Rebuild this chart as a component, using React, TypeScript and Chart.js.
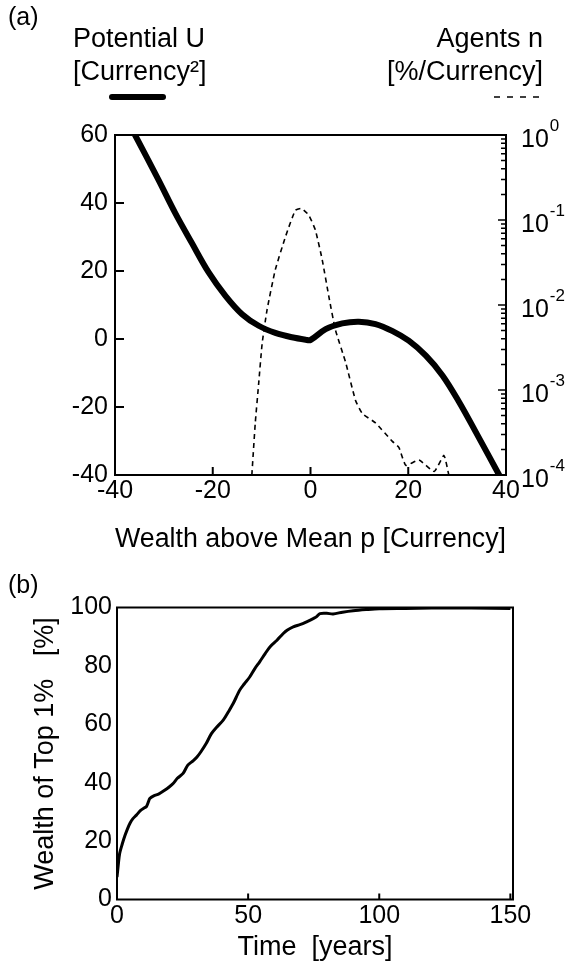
import React, { useEffect, useRef } from 'react';
import { Chart, registerables } from 'chart.js';

Chart.register(...registerables);

const FAMILY = '"Liberation Sans", Arial, Helvetica, sans-serif';

// ---- Panel (a) data ----
const potentialX = [-35.9, -31.1, -27.7, -24.3, -20.8, -17.4, -14, -10.6, -7.2, -3.8, -1, 0, 3.1, 6.5, 9.9, 13.3, 16.7, 20.1, 23.6, 27, 30.4, 33.8, 38.6];
const potentialU = [60, 46.8, 37.1, 28.3, 19.5, 12.7, 7.3, 3.9, 1.8, 0.5, -0.2, -0.3, 2.9, 4.6, 5.1, 4.4, 2.4, -0.5, -4.9, -10.7, -18.5, -27.3, -40];

const agentsX = [-12, -11.3, -10.6, -9.9, -8.9, -7.2, -5.1, -3.1, -1.85, -0.35, 1, 2.4, 3.75, 5.1, 7.2, 9.2, 10.6, 13.3, 16.7, 18.1, 19.5, 22.2, 25.3, 27.3, 28.3];
const agentsN = [1e-4, 4.1e-4, 1.2e-3, 3.5e-3, 8.7e-3, 2.6e-2, 6.4e-2, 0.13, 0.137, 0.114, 0.076, 0.034, 0.0126, 5.1e-3, 2.1e-3, 7.6e-4, 5.3e-4, 4.1e-4, 2.5e-4, 2.1e-4, 1.3e-4, 1.5e-4, 1.1e-4, 1.7e-4, 1e-4];

const xTicksA = [-40, -20, 0, 20, 40];
const yTicksA = [-40, -20, 0, 20, 40, 60];
const logExponents = [0, -1, -2, -3, -4];

// ---- Panel (b) data ----
const timeYears = [0, 0.5, 1, 2, 3, 4, 5, 6, 7.4, 9, 10.5, 11.2, 12, 12.5, 14, 16, 18, 20, 21.4, 23, 25.2, 27, 29, 30.5, 32, 34, 36, 38, 40.5, 42.5, 44.3, 46.8, 48.5, 50.6, 52.5, 54.4, 56.5, 58.3, 61, 63.4, 65, 67.2, 70, 72.5, 74.8, 76, 77.4, 80, 82.4, 86, 90, 95, 100, 110, 120, 135, 150];
const top1Share = [7.7, 12, 15.7, 19, 21.8, 24.2, 26.2, 27.6, 28.9, 30.5, 31.4, 31.8, 33.5, 34.6, 35.5, 36.2, 37.3, 38.6, 39.7, 41.5, 43.2, 46, 47.5, 48.8, 50.6, 53.4, 56.8, 59, 61.4, 64.3, 67.1, 71.7, 73.8, 76.2, 79, 81.4, 84.2, 86.5, 88.8, 91.1, 92.3, 93.4, 94.2, 95.2, 96.2, 96.8, 97.9, 98.0, 97.8, 98.4, 98.9, 99.3, 99.6, 99.7, 99.8, 99.8, 99.7];

const xTicksB = [0, 50, 100, 150];
const yTicksB = [0, 20, 40, 60, 80, 100];

const tickFont = { family: FAMILY, size: 25, lineHeight: 1.2 };
const titleFont = { family: FAMILY, size: 27, lineHeight: 1.2 };

function makeConfigA(): any {
  const decor = {
    id: 'decorA',
    afterDraw(chart: any) {
      const { ctx, chartArea: ca, scales } = chart;
      const sx = scales.x, sy = scales.y, sy2 = scales.y2;
      ctx.save();
      ctx.strokeStyle = '#000';
      ctx.lineWidth = 2;
      ctx.strokeRect(ca.left, ca.top, ca.right - ca.left, ca.bottom - ca.top);
      ctx.beginPath();
      for (const v of xTicksA) {
        const px = sx.getPixelForValue(v);
        if (px > ca.left + 2 && px < ca.right - 2) { ctx.moveTo(px, ca.bottom); ctx.lineTo(px, ca.bottom - 8); }
      }
      for (const v of yTicksA) {
        const py = sy.getPixelForValue(v);
        if (py > ca.top + 2 && py < ca.bottom - 2) { ctx.moveTo(ca.left, py); ctx.lineTo(ca.left + 9, py); }
      }
      ctx.stroke();
      ctx.lineWidth = 1.5;
      ctx.beginPath();
      for (const e of logExponents) {
        const base = Math.pow(10, e);
        const py = sy2.getPixelForValue(base);
        ctx.moveTo(ca.right, py); ctx.lineTo(ca.right - 8, py);
        if (e < 0) {
          for (let m = 2; m <= 9; m++) {
            const pm = sy2.getPixelForValue(m * base);
            ctx.moveTo(ca.right, pm); ctx.lineTo(ca.right - 5, pm);
          }
        }
      }
      ctx.stroke();
      // right axis labels 10^n
      ctx.fillStyle = '#000';
      ctx.textAlign = 'left';
      ctx.textBaseline = 'middle';
      for (const e of logExponents) {
        const py = sy2.getPixelForValue(Math.pow(10, e));
        ctx.font = `25px ${FAMILY}`;
        ctx.fillText('10', ca.right + 15, py + 5);
        const w = ctx.measureText('10').width;
        ctx.font = `17px ${FAMILY}`;
        ctx.fillText(String(e), ca.right + 16 + w, py - 9);
      }
      // header
      ctx.font = `25px ${FAMILY}`;
      ctx.fillText('(a)', 8, 18);
      ctx.font = `27px ${FAMILY}`;
      ctx.fillText('Potential U', 73, 40);
      ctx.fillText('[Currency²]', 73, 73);
      ctx.textAlign = 'right';
      ctx.fillText('Agents n', 543, 40);
      ctx.fillText('[%/Currency]', 543, 73);
      // legend lines
      ctx.lineCap = 'round';
      ctx.lineWidth = 6;
      ctx.beginPath(); ctx.moveTo(112, 97); ctx.lineTo(163, 97); ctx.stroke();
      ctx.lineCap = 'butt';
      ctx.lineWidth = 1.6;
      ctx.setLineDash([6, 7]);
      ctx.beginPath(); ctx.moveTo(494, 97); ctx.lineTo(540, 97); ctx.stroke();
      ctx.restore();
    },
  };
  return {
    type: 'line',
    data: {
      datasets: [
        {
          data: potentialX.map((x, i) => ({ x, y: potentialU[i] })),
          yAxisID: 'y', borderColor: '#000', borderWidth: 6, tension: 0.35,
          pointRadius: 0, borderCapStyle: 'round', fill: false,
        },
        {
          data: agentsX.map((x, i) => ({ x, y: agentsN[i] })),
          yAxisID: 'y2', borderColor: '#000', borderWidth: 1.6, borderDash: [5, 4], tension: 0.15,
          pointRadius: 0, fill: false,
        },
      ],
    },
    options: {
      animation: false, responsive: false, maintainAspectRatio: false,
      layout: { padding: { top: 135, left: 0, right: 0, bottom: 0 } },
      plugins: { legend: { display: false }, tooltip: { enabled: false } },
      scales: {
        x: {
          type: 'linear', min: -40, max: 40,
          afterBuildTicks: (s: any) => { s.ticks = xTicksA.map((v) => ({ value: v })); },
          ticks: { font: tickFont, color: '#000', padding: 1, maxRotation: 0, autoSkip: false },
          grid: { display: false, drawTicks: false }, border: { display: false },
          title: { display: true, text: 'Wealth above Mean p [Currency]', font: titleFont, color: '#000', padding: { top: 0, bottom: 4 } },
          afterFit: (s: any) => { s.height = 85; },
        },
        y: {
          type: 'linear', position: 'left', min: -40, max: 60,
          afterBuildTicks: (s: any) => { s.ticks = yTicksA.map((v) => ({ value: v })); },
          ticks: { font: tickFont, color: '#000', padding: 7, autoSkip: false },
          grid: { display: false, drawTicks: false }, border: { display: false },
          afterFit: (s: any) => { s.width = 115; },
        },
        y2: {
          type: 'logarithmic', position: 'right', min: 1e-4, max: 1,
          ticks: { display: false }, grid: { display: false, drawTicks: false }, border: { display: false },
          afterFit: (s: any) => { s.width = 68; },
        },
      },
    },
    plugins: [decor],
  };
}

function makeConfigB(): any {
  const decor = {
    id: 'decorB',
    afterDraw(chart: any) {
      const { ctx, chartArea: ca, scales } = chart;
      const sx = scales.x;
      ctx.save();
      ctx.strokeStyle = '#000';
      ctx.lineWidth = 2;
      ctx.strokeRect(ca.left, ca.top, ca.right - ca.left, ca.bottom - ca.top);
      ctx.beginPath();
      for (const v of xTicksB) {
        const px = sx.getPixelForValue(v);
        if (px > ca.left + 2) { ctx.moveTo(px, ca.bottom); ctx.lineTo(px, ca.bottom - 6); }
      }
      ctx.stroke();
      ctx.fillStyle = '#000';
      ctx.textAlign = 'left';
      ctx.textBaseline = 'middle';
      ctx.font = `25px ${FAMILY}`;
      ctx.fillText('(b)', 8, 26);
      ctx.restore();
    },
  };
  return {
    type: 'line',
    data: {
      datasets: [
        {
          data: timeYears.map((x, i) => ({ x, y: top1Share[i] })),
          borderColor: '#000', borderWidth: 3, tension: 0.3, pointRadius: 0, fill: false,
        },
      ],
    },
    options: {
      animation: false, responsive: false, maintainAspectRatio: false,
      layout: { padding: { top: 47.5, left: 0, right: 61, bottom: 0 } },
      plugins: { legend: { display: false }, tooltip: { enabled: false } },
      scales: {
        x: {
          type: 'linear', min: 0, max: 151,
          afterBuildTicks: (s: any) => { s.ticks = xTicksB.map((v) => ({ value: v })); },
          ticks: { font: tickFont, color: '#000', padding: 2, maxRotation: 0, autoSkip: false },
          grid: { display: false, drawTicks: false }, border: { display: false },
          title: { display: true, text: 'Time  [years]', font: titleFont, color: '#000', padding: { top: 0, bottom: 5 } },
          afterFit: (s: any) => { s.height = 69.5; },
        },
        y: {
          type: 'linear', position: 'left', min: 0, max: 100,
          afterBuildTicks: (s: any) => { s.ticks = yTicksB.map((v) => ({ value: v })); },
          ticks: { font: tickFont, color: '#000', padding: 5, autoSkip: false },
          grid: { display: false, drawTicks: false }, border: { display: false },
          title: { display: true, text: 'Wealth of Top 1%   [%]', font: titleFont, color: '#000', padding: { top: 29, bottom: 0 } },
          afterFit: (s: any) => { s.width = 117; },
        },
      },
    },
    plugins: [decor],
  };
}

export default function App() {
  const refA = useRef<HTMLCanvasElement>(null);
  const refB = useRef<HTMLCanvasElement>(null);
  useEffect(() => {
    const a = new Chart(refA.current as HTMLCanvasElement, makeConfigA());
    const b = new Chart(refB.current as HTMLCanvasElement, makeConfigB());
    return () => { a.destroy(); b.destroy(); };
  }, []);
  return (
    <div style={{ position: 'absolute', left: 0, top: 0, width: 574, height: 969, background: '#fff' }}>
      <canvas ref={refA} width={574} height={560} style={{ position: 'absolute', left: 0, top: 0, width: 574, height: 560 }} />
      <canvas ref={refB} width={574} height={409} style={{ position: 'absolute', left: 0, top: 560, width: 574, height: 409 }} />
    </div>
  );
}
